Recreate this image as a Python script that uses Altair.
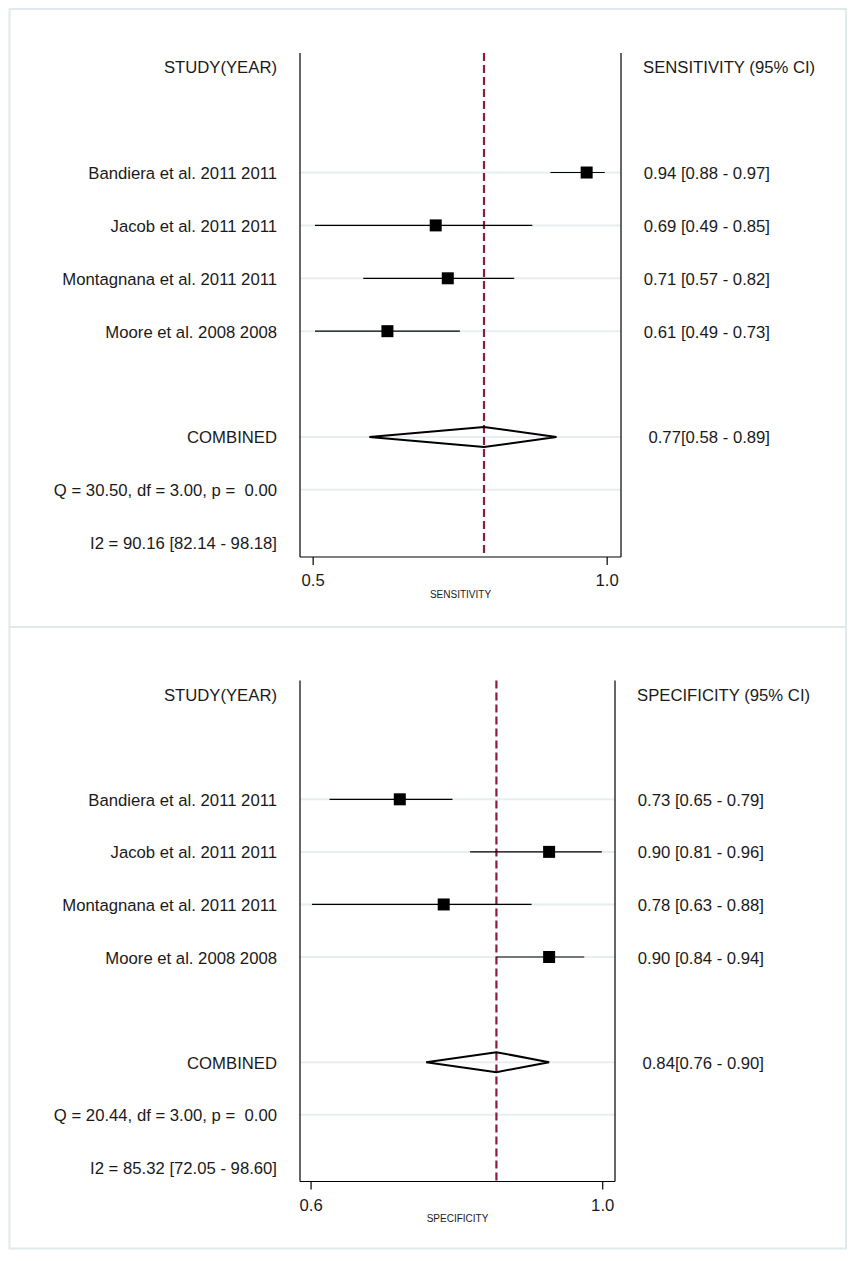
import altair as alt
import pandas as pd

FONT = "Liberation Sans"
TXT = "#1a1a1a"
RED = "#8b1a44"
GRID = "#e7eef0"
FRAME = "#e2e9ec"
FS = 16.7

studies = ["Bandiera et al. 2011 2011", "Jacob et al. 2011 2011",
           "Montagnana et al. 2011 2011", "Moore et al. 2008 2008"]
study_rows = [2, 3, 4, 5]
header_row = 0
combined_row = 7
q_row = 8
i2_row = 9
grid_rows = [2, 3, 4, 5, 7, 8]
row_domain = [-0.26, 9.27]

sens_est = [0.94, 0.69, 0.71, 0.61]
sens_lo = [0.88, 0.49, 0.57, 0.49]
sens_hi = [0.97, 0.85, 0.82, 0.73]
sens_comb = [0.77, 0.58, 0.89]
sens_q = "Q = 30.50, df = 3.00, p = \u00a00.00"
sens_i2 = "I2 = 90.16 [82.14 - 98.18]"
sens_ticks = [0.487, 0.974]
sens_tick_labels = ["0.5", "1.0"]
sens_domain = [0.4652, 0.9969]

spec_est = [0.73, 0.90, 0.78, 0.90]
spec_lo = [0.65, 0.81, 0.63, 0.84]
spec_hi = [0.79, 0.96, 0.88, 0.94]
spec_comb = [0.84, 0.76, 0.90]
spec_q = "Q = 20.44, df = 3.00, p = \u00a00.00"
spec_i2 = "I2 = 85.32 [72.05 - 98.60]"
spec_ticks = [0.629, 0.961]
spec_tick_labels = ["0.6", "1.0"]
spec_domain = [0.6164, 0.975]


def panel(measure, est, lo, hi, comb, q, i2, ticks, tick_labels, domain,
          W, H, ftop, fbot):
    xs = alt.Scale(domain=domain, nice=False, zero=False)
    ys = alt.Scale(domain=row_domain, nice=False, zero=False, reverse=True)
    y_none = alt.Y("row:Q", scale=ys, axis=None)
    x_none = lambda f: alt.X(f, scale=xs, axis=None)

    sdf = pd.DataFrame({"study": studies, "row": study_rows,
                        "est": est, "lo": lo, "hi": hi})
    sdf["ci"] = [f"{e:.2f} [{l:.2f} - {h:.2f}]" for e, l, h in zip(est, lo, hi)]

    e, l, h = comb
    hh = 0.19
    dia = pd.DataFrame({
        "x": [l, e, h, e, l],
        "row": [combined_row, combined_row - hh, combined_row,
                combined_row + hh, combined_row],
        "o": [0, 1, 2, 3, 4],
    })
    comb_df = pd.DataFrame({"est": [e]})
    edge_df = pd.DataFrame({"edge": list(domain)})
    grid_df = pd.DataFrame({"row": grid_rows})
    base_df = pd.DataFrame({"row": [row_domain[1]]})
    tick_df = pd.DataFrame({"v": ticks, "lab": tick_labels})
    title_df = pd.DataFrame({"t": [measure]})

    left_txt = pd.DataFrame({
        "row": [header_row] + study_rows + [combined_row, q_row, i2_row],
        "t": ["STUDY(YEAR)"] + studies + ["COMBINED", q, i2],
    })
    right_vals = pd.DataFrame({
        "row": study_rows + [combined_row],
        "t": list(sdf["ci"]) + [f"{e:.2f}[{l:.2f} - {h:.2f}]"],
    })
    right_head = pd.DataFrame({"row": [header_row],
                               "t": [f"{measure} (95% CI)"]})
    frame_df = pd.DataFrame({"k": [0]})

    frame = alt.Chart(frame_df).mark_rect(
        fill="#ffffff", fillOpacity=0, stroke=FRAME, strokeWidth=2
    ).encode(x=alt.value(-290.5), x2=alt.value(546),
             y=alt.value(ftop), y2=alt.value(fbot))

    grid = alt.Chart(grid_df).mark_rule(color=GRID, strokeWidth=2).encode(
        y=y_none)

    ref = alt.Chart(comb_df).mark_rule(
        color=RED, strokeWidth=2.2, strokeDash=[8, 4]
    ).encode(x=x_none("est:Q"))

    edges = alt.Chart(edge_df).mark_rule(color="black", strokeWidth=1.2).encode(
        x=x_none("edge:Q"))
    base = alt.Chart(base_df).mark_rule(color="black", strokeWidth=1.2).encode(
        y=y_none)

    tick_marks = alt.Chart(tick_df).mark_rule(color="black", strokeWidth=1.2).encode(
        x=x_none("v:Q"), y=alt.value(H), y2=alt.value(H + 8))
    tick_text = alt.Chart(tick_df).mark_text(
        font=FONT, fontSize=FS, color=TXT, baseline="middle", align="center"
    ).encode(x=x_none("v:Q"), y=alt.value(H + 24), text="lab:N")
    title = alt.Chart(title_df).mark_text(
        font=FONT, fontSize=10, color=TXT, baseline="middle", align="center"
    ).encode(x=alt.value(W / 2), y=alt.value(H + 37.5), text="t:N")

    ci = alt.Chart(sdf).mark_rule(color="black", strokeWidth=1.2).encode(
        x=x_none("lo:Q"), x2="hi:Q", y=y_none)

    squares = alt.Chart(sdf).mark_square(
        size=144, color="black", opacity=1, filled=True
    ).encode(x=x_none("est:Q"), y=y_none)

    diamond = alt.Chart(dia).mark_line(
        color="black", strokeWidth=2, strokeJoin="miter"
    ).encode(x=x_none("x:Q"), y=y_none, order="o:Q")

    txt_style = dict(font=FONT, fontSize=FS, color=TXT, baseline="middle", dy=1.5)
    ltxt = alt.Chart(left_txt).mark_text(align="right", **txt_style).encode(
        x=alt.value(-23), y=y_none, text="t:N")
    rvals = alt.Chart(right_vals).mark_text(align="right", **txt_style).encode(
        x=alt.value(W + 149), y=y_none, text="t:N")
    rhead = alt.Chart(right_head).mark_text(align="left", **txt_style).encode(
        x=alt.value(W + 22), y=y_none, text="t:N")

    return alt.layer(frame, grid, ref, edges, base, tick_marks, tick_text,
                     title, ci, squares, diamond,
                     ltxt, rvals, rhead).properties(width=W, height=H)


top = panel("SENSITIVITY", sens_est, sens_lo, sens_hi, sens_comb, sens_q,
            sens_i2, sens_ticks, sens_tick_labels, sens_domain,
            321, 504, -44, 574)
bottom = panel("SPECIFICITY", spec_est, spec_lo, spec_hi, spec_comb, spec_q,
               spec_i2, spec_ticks, spec_tick_labels, spec_domain,
               315, 501, -53.5, 568)

chart = alt.vconcat(top, bottom, spacing=123.5, bounds="flush").properties(
    padding=0, background="white"
).configure_view(stroke=None)

chart.save("out.html", embed_options={"renderer": "svg", "actions": False})
